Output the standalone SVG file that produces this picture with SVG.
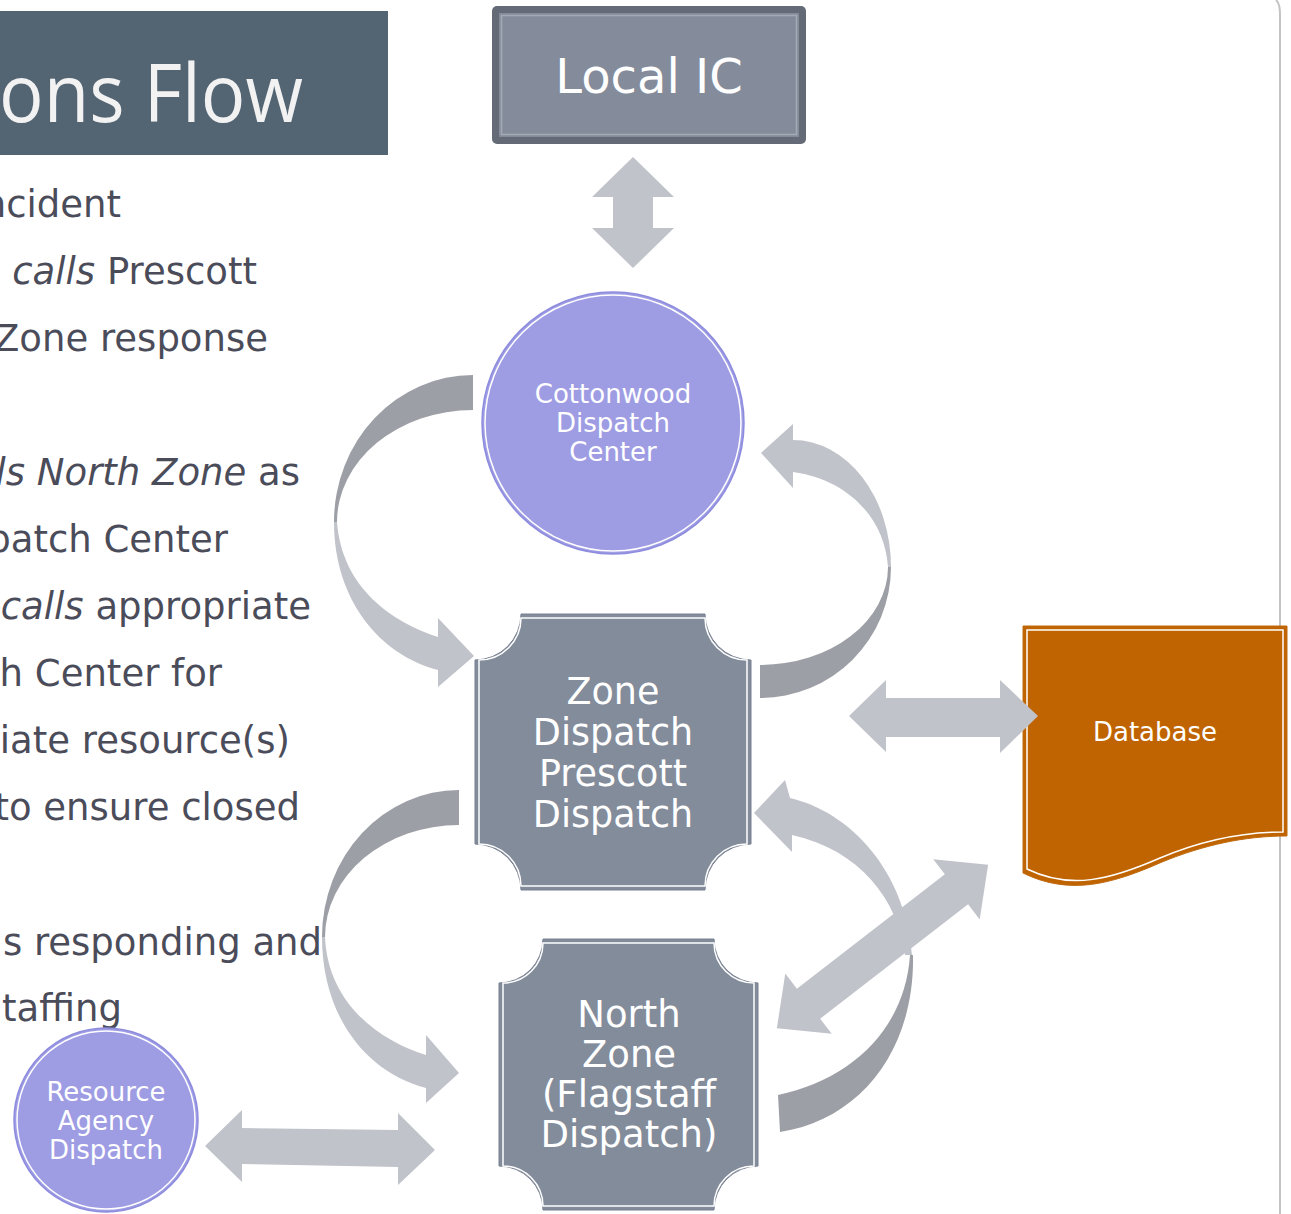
<svg xmlns="http://www.w3.org/2000/svg" width="1291" height="1214" viewBox="0 0 1291 1214">
<style>
.body{font-family:"DejaVu Sans","Liberation Sans",sans-serif;font-size:37px;fill:#4b4c5a;text-anchor:end}
.it{font-style:italic}
.node{font-family:"DejaVu Sans","Liberation Sans",sans-serif;fill:#ffffff;text-anchor:middle}
.lt{fill:#c0c3ca}
.dk{fill:#9c9fa5}
.plaque{fill:#838c9b;stroke:#778092;stroke-width:1}
.plaqueIn{fill:none;stroke:#ffffff;stroke-width:1.5}
.circ{fill:#9e9ce3;stroke:#8e8cde;stroke-width:1.5}
.circIn{fill:none;stroke:#ffffff;stroke-width:1.5}
</style>
<rect width="1291" height="1214" fill="#ffffff"/>
<path d="M1276,0 Q1280,3 1280,15 V1214" fill="none" stroke="#c3c3c3" stroke-width="2"/>

<g id="title">
<rect x="0" y="11" width="388" height="144" fill="#536473"/>
<text x="-1" y="122" font-family="'Open Sans','Noto Sans',sans-serif" font-size="80" fill="#f2f2f2" textLength="304" lengthAdjust="spacingAndGlyphs">ons Flow</text>
</g>

<g id="bullets">
<text class="body" x="121" y="217">ncident</text>
<text class="body" x="257" y="284"><tspan class="it">calls</tspan> Prescott</text>
<text class="body" x="268" y="351">Zone response</text>
<text class="body" x="300" y="485"><tspan class="it">ls North Zone</tspan> as</text>
<text class="body" x="228" y="552">patch Center</text>
<text class="body" x="311" y="619"><tspan class="it">calls</tspan> appropriate</text>
<text class="body" x="222" y="686">h Center for</text>
<text class="body" x="290" y="753">iate resource(s)</text>
<text class="body" x="300" y="820">to ensure closed</text>
<text class="body" x="322" y="955">s responding and</text>
<text class="body" x="122" y="1021">taffing</text>
</g>

<g id="local-ic">
<rect x="492" y="6" width="314" height="138" rx="5" fill="#646b77"/>
<rect x="499" y="13" width="300" height="124" fill="#848c9b"/>
<rect x="501.5" y="15.5" width="295" height="119" fill="none" stroke="#a4aab4" stroke-width="1.5"/>
<text class="node" x="649" y="93" font-size="48">Local IC</text>
</g>

<g id="cottonwood">
<circle class="circ" cx="613" cy="423" r="131"/>
<circle class="circIn" cx="613" cy="423" r="128"/>
<text class="node" font-size="26" x="613" y="403">Cottonwood</text>
<text class="node" font-size="26" x="613" y="432">Dispatch</text>
<text class="node" font-size="26" x="613" y="461">Center</text>
</g>

<g id="zone-dispatch">
<path class="plaque" d="M521,614 H705 A46 46 0 0 0 751,660 V844 A46 46 0 0 0 705,890 H521 A46 46 0 0 0 475,844 V660 A46 46 0 0 0 521,614 Z"/>
<path class="plaqueIn" d="M521,618 H705 A42 42 0 0 0 747,660 V844 A42 42 0 0 0 705,886 H521 A42 42 0 0 0 479,844 V660 A42 42 0 0 0 521,618 Z"/>
<text class="node" font-size="36.5" x="613" y="704">Zone</text>
<text class="node" font-size="36.5" x="613" y="745">Dispatch</text>
<text class="node" font-size="36.5" x="613" y="786">Prescott</text>
<text class="node" font-size="36.5" x="613" y="827">Dispatch</text>
</g>

<g id="north-zone">
<path class="plaque" d="M543,939 H714 A44 44 0 0 0 758,983 V1166 A44 44 0 0 0 714,1210 H543 A44 44 0 0 0 499,1166 V983 A44 44 0 0 0 543,939 Z"/>
<path class="plaqueIn" d="M543,943 H714 A40 40 0 0 0 754,983 V1166 A40 40 0 0 0 714,1206 H543 A40 40 0 0 0 503,1166 V983 A40 40 0 0 0 543,943 Z"/>
<text class="node" font-size="37" x="629" y="1027">North</text>
<text class="node" font-size="37" x="629" y="1067">Zone</text>
<text class="node" font-size="37" x="629" y="1107">(Flagstaff</text>
<text class="node" font-size="37" x="629" y="1147">Dispatch)</text>
</g>

<g id="database">
<path d="M1023,626 H1287 V836 C1244,836 1204,845 1162,862 C1112,884 1070,896 1023,873 Z" fill="#bf6400" stroke="#c06a10" stroke-width="1"/>
<path d="M1027,630 H1283 V832 C1240,832 1200,841 1160,858 C1110,880 1070,890 1027,869 Z" fill="none" stroke="#ffffff" stroke-width="1.5"/>
<text class="node" font-size="26" x="1155" y="741">Database</text>
</g>

<g id="resource-agency">
<circle class="circ" cx="106" cy="1120" r="92"/>
<circle class="circIn" cx="106" cy="1120" r="89"/>
<text class="node" font-size="26" x="106" y="1101">Resource</text>
<text class="node" font-size="26" x="106" y="1130">Agency</text>
<text class="node" font-size="26" x="106" y="1159">Dispatch</text>
</g>

<g id="connectors">
<!-- Local IC <-> Cottonwood -->
<polygon class="lt" points="633,157 674,197 653,197 653,228 674,228 633,268 592,228 613,228 613,197 592,197"/>
<!-- Cottonwood -> Zone Dispatch (left curve) -->
<path class="dk" d="M473,375 A139 147 0 0 0 334,522 L337,522 A136 112 0 0 1 473,410 Z"/>
<path class="lt" d="M334,522 C334,600 380,655 438,670 L438,687 L474,656 L438,618 L438,637 C392,622 342,588 337,522 Z"/>
<!-- Zone Dispatch -> Cottonwood (right curve) -->
<path class="dk" d="M760,698 A131 131 0 0 0 891,567 L888,567 A128 98 0 0 1 760,665 Z"/>
<path class="lt" d="M891,567 A98 127 0 0 0 793,440 L793,424 L761,453 L793,488 L793,472 C850,480 885,520 888,567 Z"/>
<!-- Zone Dispatch -> North Zone (left curve) -->
<path class="dk" d="M459,790 A137 147 0 0 0 322,937 L325,937 A134 112 0 0 1 459,825 Z"/>
<path class="lt" d="M322,937 C322,1015 365,1072 426,1088 L426,1103 L459,1073 L426,1035 L426,1055 C378,1040 328,1003 325,937 Z"/>
<!-- North Zone -> Zone Dispatch (right curve) -->
<path class="dk" d="M913,955 C915,1050 860,1120 780,1132 L778,1095 C850,1080 905,1030 910,955 Z"/>
<path class="lt" d="M790,798 C850,812 905,870 912,955 L905,955 C898,900 860,850 792,835 L792,852 L754,813 L785,780 Z"/>
<!-- Zone Dispatch <-> Database -->
<polygon class="lt" points="849,716 886,680 886,698 1000,698 1000,680 1038,716 1000,753 1000,737 886,737 886,752"/>
<!-- North Zone <-> Database (diagonal) -->
<polygon class="lt" transform="translate(882.5,946.5) rotate(-37.7)" points="-133.5,0 -93.5,-38 -93.5,-19 93.5,-19 93.5,-38 133.5,0 93.5,38 93.5,19 -93.5,19 -93.5,38"/>
<!-- Resource Agency <-> North Zone -->
<polygon class="lt" points="205,1146 242,1110 242,1128 398,1130 398,1113 435,1150 398,1185 398,1167 242,1164 242,1182"/>
</g>
</svg>
